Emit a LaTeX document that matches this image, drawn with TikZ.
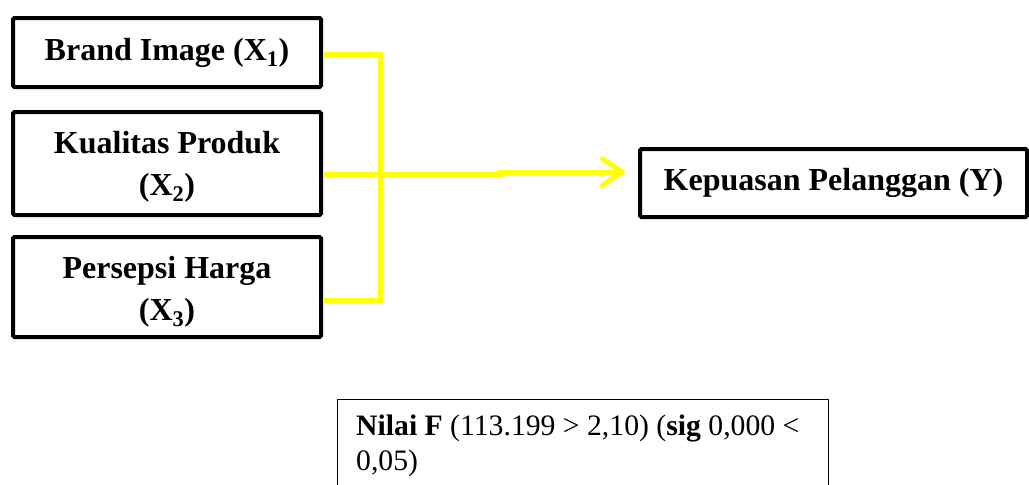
\documentclass[tikz,border=0pt]{standalone}
\usepackage{fontspec}
\setmainfont{Liberation Serif}
\usetikzlibrary{arrows.meta}
\begin{document}
\begin{tikzpicture}[x=1pt,y=-1pt,
  boxtext/.style={inner sep=0pt, align=center, font=\fontsize{32}{42}\selectfont\bfseries},
  varbox/.style={draw=black, line width=4pt, rounded corners=1.5pt, rectangle, boxtext},
  yel/.style={draw={rgb,255:red,255;green,255;blue,0}, line width=5pt},
  statbox/.style={draw=black, line width=1pt}]
\useasboundingbox (0,0) rectangle (1029,485);
\clip (0,0) rectangle (1029,485);
\node[varbox, minimum width=308pt, minimum height=69pt] (b1) at (167,52.5) {Brand Image (X\textsubscript{1})};
\node[varbox, minimum width=308pt, minimum height=103pt] (b2) at (167,163.5) {};
\node[boxtext] (t2) at ([yshift=-3pt]b2.center) {Kualitas Produk\\(X\textsubscript{2})};
\node[varbox, minimum width=308pt, minimum height=100pt] (b3) at (167,287) {};
\node[boxtext] (t3) at ([yshift=-5pt]b3.center) {Persepsi Harga\\(X\textsubscript{3})};
\node[varbox, minimum width=387pt, minimum height=68pt] (y) at (833.5,183) {Kepuasan Pelanggan (Y)};
\coordinate (j1) at (380,54);
\coordinate (j3) at (380,300);
\coordinate (jm) at (380,174);
\coordinate (st) at (500,174);
\draw[yel] (b1.east |- j1) -- (j1) -- (j3) -- (b3.east |- j3);
\draw[yel, -{Straight Barb[length=20pt,width=26pt,round]}] (b2.east |- jm) -- (st) -- ([yshift=2pt]st) -- ([xshift=-13pt,yshift=2pt]y.west |- st);
\draw[statbox] (337,399) rectangle (828,520);
\node[anchor=base west, inner sep=0pt, align=left, font=\fontsize{29.7}{35}\selectfont] (f) at (356,470)
  {\textbf{Nilai F} (113.199 > 2,10) (\textbf{sig} 0,000 <\\0,05)};
\end{tikzpicture}
\end{document}
